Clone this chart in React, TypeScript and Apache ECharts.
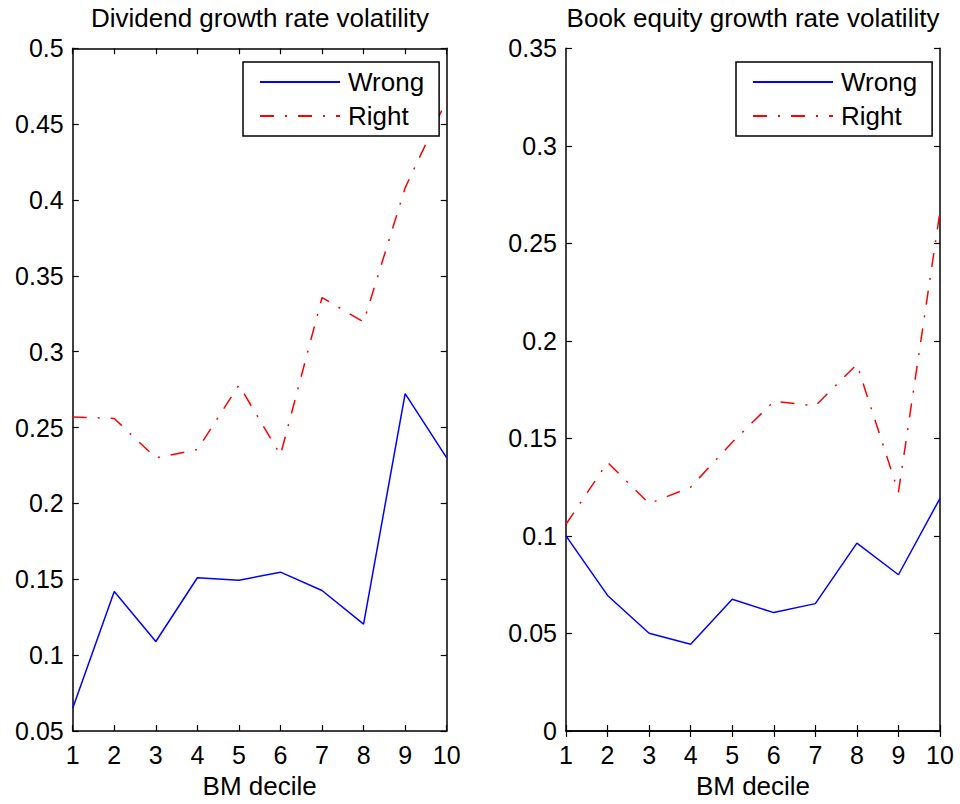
import React, { useEffect, useRef } from "react";
import * as echarts from "echarts";

const deciles = [1, 2, 3, 4, 5, 6, 7, 8, 9, 10];
const divWrong = [0.065, 0.142, 0.109, 0.151, 0.1494, 0.1547, 0.1426, 0.1204, 0.2724, 0.23];
const divRight = [0.257, 0.256, 0.23, 0.2355, 0.278, 0.232, 0.3357, 0.3196, 0.408, 0.466];
const beWrong = [0.1, 0.0695, 0.0501, 0.0445, 0.0675, 0.0607, 0.0653, 0.0963, 0.0801, 0.1193];
const beRight = [0.106, 0.1377, 0.1166, 0.125, 0.148, 0.169, 0.1667, 0.188, 0.1224, 0.2664];
const titles = ["Dividend growth rate volatility", "Book equity growth rate volatility"];
const xName = "BM decile";

const FONT = "'Liberation Sans', Arial, Helvetica, sans-serif";

export default function App() {
  const ref = useRef<HTMLDivElement>(null);
  useEffect(() => {
    const chart = echarts.init(ref.current!, null, { renderer: "svg" });
    const pair = (ys: number[]) => deciles.map((d, i) => [d, ys[i]]);
    const grids = [
      { left: 72.7, top: 48.3, width: 374, height: 684.4 },
      { left: 566, top: 48.3, width: 374, height: 684.4 },
    ];
    const axisLine = { show: true, lineStyle: { color: "#000", width: 1.5 } };
    const tickIn = { show: true, inside: true, length: 6, lineStyle: { color: "#000", width: 1.2 } };
    const labelStyle = { color: "#000", fontSize: 25, fontFamily: FONT };
    const xAxes: any[] = [];
    const yAxes: any[] = [];
    const yRanges = [
      { min: 0.05, max: 0.5 },
      { min: 0, max: 0.35 },
    ];
    [0, 1].forEach((g) => {
      xAxes.push({
        type: "value", gridIndex: g, min: 1, max: 10, interval: 1, position: "bottom",
        axisLine, axisTick: tickIn, splitLine: { show: false },
        axisLabel: { ...labelStyle, margin: 11 },
        name: xName, nameLocation: "middle", nameGap: 42,
        nameTextStyle: { ...labelStyle, fontSize: 26 },
      });
      xAxes.push({
        type: "value", gridIndex: g, min: 1, max: 10, interval: 1, position: "top",
        axisLine, axisTick: tickIn, splitLine: { show: false }, axisLabel: { show: false },
      });
      yAxes.push({
        type: "value", gridIndex: g, min: yRanges[g].min, max: yRanges[g].max, interval: 0.05,
        position: "left", axisLine, axisTick: tickIn, splitLine: { show: false },
        axisLabel: { ...labelStyle, margin: 9 },
      });
      yAxes.push({
        type: "value", gridIndex: g, min: yRanges[g].min, max: yRanges[g].max, interval: 0.05,
        position: "right", axisLine, axisTick: tickIn, splitLine: { show: false },
        axisLabel: { show: false },
      });
    });
    const wrongStyle = { color: "#0000ff", width: 1.5, type: "solid" };
    const rightStyle = { color: "#ff0000", width: 1.5, type: [14, 11, 2, 11] };
    const mk = (name: string, data: number[], g: number, ls: any) => ({
      name, type: "line", xAxisIndex: g * 2, yAxisIndex: g * 2, data: pair(data),
      symbol: "none", lineStyle: ls, itemStyle: { color: ls.color }, z: 3,
    });
    const legendBase = {
      orient: "vertical", top: 62, itemWidth: 80, itemHeight: 20, itemGap: 8,
      padding: [7, 15, 7, 16], borderColor: "#000", borderWidth: 1.5, backgroundColor: "#fff",
      itemStyle: { opacity: 0, borderWidth: 0 },
      textStyle: { ...labelStyle, fontSize: 26, lineHeight: 26, padding: [0, 0, 0, 3] },
      data: ["Wrong", "Right"], selectedMode: false, z: 10,
    };
    chart.setOption({
      animation: false,
      backgroundColor: "#fff",
      grid: grids,
      xAxis: xAxes,
      yAxis: yAxes,
      legend: [
        { ...legendBase, left: 243 },
        { ...legendBase, left: 736 },
      ],
      graphic: [
        { type: "text", x: 260, y: 18, style: { text: titles[0], fill: "#000", fontSize: 26, fontFamily: FONT, align: "center", verticalAlign: "middle" } },
        { type: "text", x: 753, y: 18, style: { text: titles[1], fill: "#000", fontSize: 26, fontFamily: FONT, align: "center", verticalAlign: "middle" } },
      ],
      series: [
        mk("Wrong", divWrong, 0, wrongStyle),
        mk("Right", divRight, 0, rightStyle),
        mk("Wrong", beWrong, 1, wrongStyle),
        mk("Right", beRight, 1, rightStyle),
      ],
    });
    return () => chart.dispose();
  }, []);
  return (
    <div
      ref={ref}
      style={{ position: "fixed", left: 0, top: 0, width: 960, height: 804, background: "#fff" }}
    />
  );
}
